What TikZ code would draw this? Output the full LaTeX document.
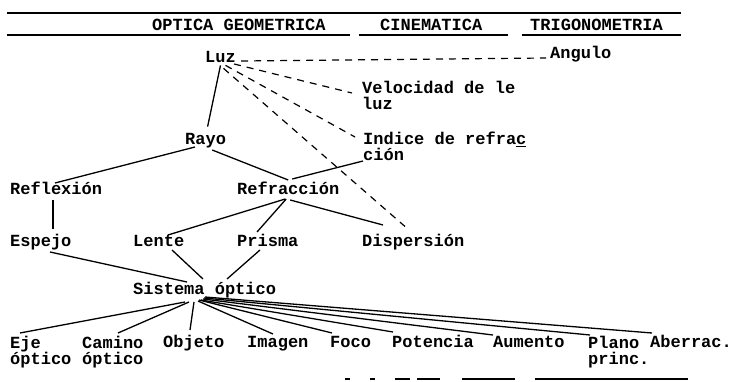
\documentclass[tikz,border=0pt]{standalone}
\usepackage{fontspec}
\newfontfamily\tw{Liberation Mono}
\usetikzlibrary{calc}
\begin{document}
\begin{tikzpicture}[x=1pt,y=-1pt,
  lbl/.style={font=\tw\bfseries\fontsize{17}{16}\selectfont, inner sep=0pt, anchor=base west},
  lbl2/.style={font=\tw\bfseries\fontsize{17}{16}\selectfont, inner sep=0pt, anchor=north west, align=left,
    execute at begin node={\rule{0pt}{13pt}}},
  link/.style={line width=1.3pt},
  dlink/.style={line width=1.2pt, dash pattern=on 7pt off 6pt},
  rule/.style={line width=2pt}]
\useasboundingbox (0,0) rectangle (733,382);
\fill[white] (0,0) rectangle (733,382);
% header rules
\draw[rule] (7,13) -- (681,13);
\draw[rule] (7,35) -- (350,35);
\draw[rule] (359,35) -- (508,35);
\draw[rule] (522,35) -- (681,35);
\node[lbl] (h1) at (152,31) {OPTICA GEOMETRICA};
\node[lbl] (h2) at (380,31) {CINEMATICA};
\node[lbl] (h3) at (530,31) {TRIGONOMETRIA};
% nodes
\node[lbl] (luz) at (205,63) {Luz};
\node[lbl] (ang) at (550,59) {Angulo};
\node[lbl2] (vel) at (362,81) {Velocidad de le\\luz};
\node[lbl2] (ind) at (363,132) {Indice de refra\underline{c}\\ción};
\node[lbl] (rayo) at (185,145) {Rayo};
\node[lbl] (refl) at (10,194) {Reflexión};
\node[lbl] (refr) at (237,194) {Refracción};
\node[lbl] (esp) at (10,246) {Espejo};
\node[lbl] (lente) at (133,246) {Lente};
\node[lbl] (prisma) at (237,246) {Prisma};
\node[lbl] (disp) at (362,246) {Dispersión};
\node[lbl] (sis) at (133,294) {Sistema óptico};
\node[lbl2] (eje) at (10,335.5) {Eje\\óptico};
\node[lbl2] (cam) at (82,335.5) {Camino\\óptico};
\node[lbl2] (obj) at (163,334) {Objeto};
\node[lbl2] (img) at (247,334) {Imagen};
\node[lbl2] (foco) at (330,334) {Foco};
\node[lbl2] (pot) at (392,334) {Potencia};
\node[lbl2] (aum) at (493,334) {Aumento};
\node[lbl2] (plano) at (588,335.5) {Plano\\princ.};
\node[lbl2] (aber) at (650,334) {Aberrac.};
% dashed links
\draw[dlink] ($(luz.base east)+(5,-2)$) -- ($(ang.base west)+(-4,-1)$);
\draw[dlink] ($(luz.base east)+(-2,1)$) -- ($(vel.north west)+(-10,12)$);
\draw[dlink] ($(luz.south)+(5,2)$) -- ($(ind.north west)+(-8,5)$);
\draw[dlink] ($(luz.south)+(3,5)$) -- ($(disp.north west)+(43,-7)$);
% solid links
\draw[link] ($(luz.south)+(0,2)$) -- ($(rayo.north)+(2,-7)$);
\draw[link] ($(rayo.base west)+(10,2)$) -- ($(refl.base west)+(45,-11)$);
\draw[link] ($(refl.base west)+(43,6)$) -- ($(esp.base west)+(43,-17)$);
\draw[link] ($(rayo.base east)+(-14,5)$) -- ($(refr.base)+(0,-14)$);
\draw[link] ($(refr.base)+(4,-15)$) -- ($(ind.north west)+(0,29)$);
\draw[link] ($(refr.base)+(-3,5)$) -- ($(lente.base west)+(35,-11)$);
\draw[link] ($(refr.base)+(-2,5)$) -- ($(prisma.base west)+(20,-14)$);
\draw[link] ($(refr.base)+(2,6)$) -- ($(disp.base west)+(21,-21)$);
\draw[link] ($(esp.base west)+(40,6)$) -- ($(sis.base west)+(54,-12)$);
\draw[link] ($(lente.base west)+(39,4)$) -- ($(sis.base west)+(70,-15)$);
\draw[link] ($(prisma.base west)+(23,4)$) -- ($(sis.base west)+(94,-15)$);
% fan from Sistema optico
\draw[link] ($(sis.base west)+(52,8)$) -- ($(eje.north west)+(10,-2.5)$);
\draw[link] ($(sis.base west)+(56,8)$) -- ($(cam.north west)+(36,-2.5)$);
\draw[link] ($(sis.base west)+(61,8)$) -- ($(obj.north west)+(27,-4)$);
\draw[link] ($(sis.base west)+(65,7)$) -- ($(img.north west)+(26,0)$);
\draw[link] ($(sis.base west)+(66,6)$) -- ($(foco.north west)+(2,-1)$);
\draw[link] ($(sis.base west)+(68,6)$) -- ($(pot.north west)+(1,-2)$);
\draw[link] ($(sis.base west)+(70,5)$) -- ($(aum.north west)+(0,1)$);
\draw[link] ($(sis.base west)+(71,4)$) -- ($(plano.north west)+(2,-0.5)$);
\draw[link] ($(sis.base west)+(72,3)$) -- ($(aber.north west)+(2,-1)$);
% bottom partial rule
\draw[rule] (345,379) -- (350,379);
\draw[rule] (370,379) -- (375,379);
\draw[rule] (395,379) -- (410,379);
\draw[rule] (417,379) -- (440,379);
\draw[rule] (462,379) -- (515,379);
\draw[rule] (535,379) -- (688,379);
\end{tikzpicture}
\end{document}
